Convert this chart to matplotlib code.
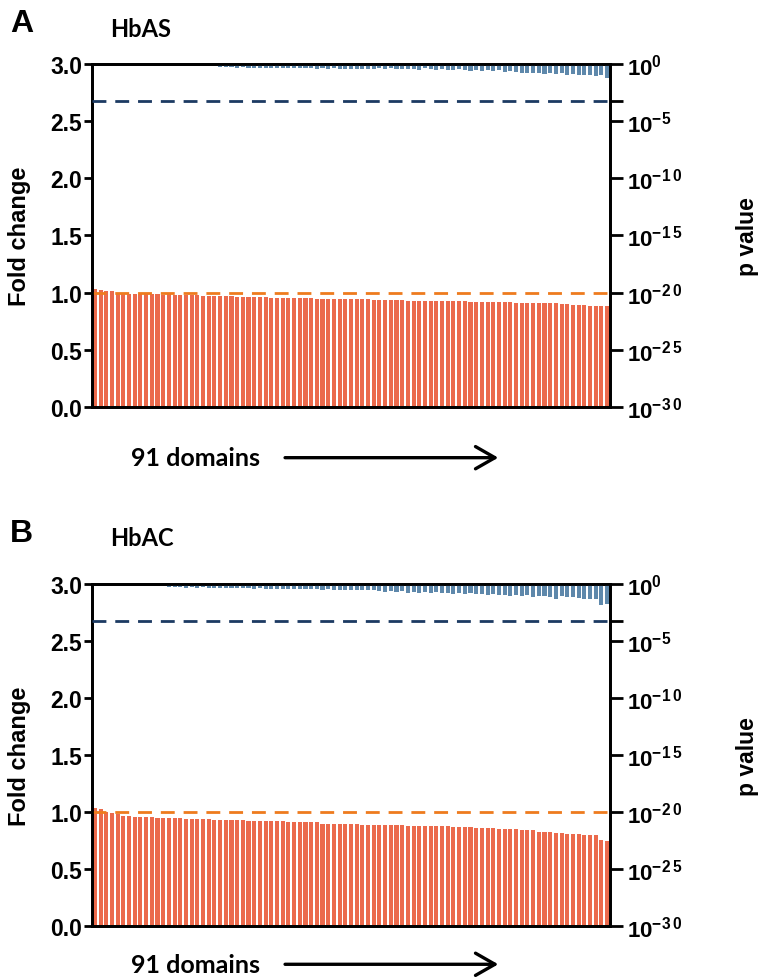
import matplotlib
matplotlib.use('Agg')
import matplotlib.pyplot as plt
import numpy as np
from matplotlib.patches import FancyArrowPatch
from matplotlib.ticker import FixedLocator, FixedFormatter

plt.rcParams['font.family'] = ['Liberation Sans', 'DejaVu Sans']
plt.rcParams['mathtext.fontset'] = 'custom'
plt.rcParams['mathtext.rm'] = 'Liberation Sans:bold'
plt.rcParams['mathtext.bf'] = 'Liberation Sans:bold'

# fold change per domain (sorted), panel A = HbAS, panel B = HbAC
fold_hbas = [1.03, 1.02, 1.01, 1.01, 1.00, 1.00, 0.99, 0.99, 0.99, 0.99,
             0.99, 0.99, 0.98, 0.99, 0.98, 0.98, 0.98, 0.98, 0.98, 0.97,
             0.97, 0.97, 0.97, 0.97, 0.97, 0.96, 0.96, 0.96, 0.96, 0.96,
             0.96, 0.955, 0.955, 0.95, 0.95, 0.95, 0.95, 0.95, 0.95, 0.945,
             0.945, 0.945, 0.94, 0.94, 0.94, 0.94, 0.94, 0.94, 0.94, 0.935,
             0.935, 0.935, 0.935, 0.935, 0.935, 0.93, 0.93, 0.93, 0.93, 0.93,
             0.93, 0.93, 0.93, 0.925, 0.925, 0.925, 0.92, 0.92, 0.92, 0.92,
             0.915, 0.915, 0.915, 0.915, 0.91, 0.91, 0.91, 0.91, 0.91, 0.905,
             0.905, 0.905, 0.90, 0.90, 0.895, 0.89, 0.89, 0.885, 0.885, 0.88, 0.88]

p_hbas = [0.99, 0.99, 1.0, 0.99, 0.99, 0.98, 0.99, 0.98, 0.98, 0.97,
          0.98, 0.97, 0.96, 0.95, 0.96, 0.94, 0.95, 0.93, 0.94, 0.92,
          0.93, 0.90, 0.55, 0.50, 0.52, 0.48, 0.50, 0.46, 0.49, 0.45,
          0.47, 0.44, 0.46, 0.43, 0.45, 0.42, 0.44, 0.41, 0.43, 0.40,
          0.42, 0.39, 0.41, 0.38, 0.40, 0.37, 0.39, 0.36, 0.38, 0.35,
          0.42, 0.38, 0.45, 0.36, 0.40, 0.34, 0.38, 0.32, 0.41, 0.35,
          0.30, 0.36, 0.33, 0.28, 0.34, 0.31, 0.27, 0.33, 0.25, 0.30,
          0.24, 0.28, 0.22, 0.26, 0.21, 0.16, 0.18, 0.15, 0.17, 0.14,
          0.16, 0.13, 0.15, 0.12, 0.13, 0.11, 0.12, 0.10, 0.095, 0.11, 0.055]

fold_hbac = [1.04, 1.03, 1.00, 0.99, 0.98, 0.97, 0.97, 0.96, 0.96, 0.96,
             0.96, 0.95, 0.95, 0.95, 0.95, 0.95, 0.94, 0.94, 0.94, 0.94,
             0.94, 0.93, 0.93, 0.93, 0.93, 0.93, 0.93, 0.92, 0.92, 0.92,
             0.92, 0.92, 0.92, 0.92, 0.91, 0.91, 0.91, 0.91, 0.91, 0.91,
             0.90, 0.90, 0.90, 0.90, 0.90, 0.90, 0.90, 0.89, 0.89, 0.89,
             0.89, 0.89, 0.89, 0.885, 0.885, 0.88, 0.88, 0.88, 0.88, 0.88,
             0.88, 0.88, 0.875, 0.87, 0.87, 0.87, 0.87, 0.86, 0.86, 0.86,
             0.86, 0.85, 0.85, 0.85, 0.85, 0.84, 0.84, 0.84, 0.83, 0.83,
             0.83, 0.82, 0.82, 0.81, 0.81, 0.81, 0.80, 0.80, 0.80, 0.76, 0.75]

p_hbac = [0.99, 0.98, 0.99, 0.99, 1.0, 0.98, 0.99, 0.97, 0.98, 0.97,
          0.98, 0.96, 0.95, 0.58, 0.55, 0.57, 0.52, 0.54, 0.50, 0.53,
          0.48, 0.51, 0.47, 0.49, 0.45, 0.48, 0.44, 0.46, 0.42, 0.45,
          0.41, 0.43, 0.40, 0.42, 0.38, 0.41, 0.37, 0.39, 0.36, 0.38,
          0.34, 0.37, 0.33, 0.35, 0.32, 0.34, 0.31, 0.33, 0.30, 0.32,
          0.26, 0.22, 0.25, 0.20, 0.24, 0.19, 0.23, 0.18, 0.21, 0.17,
          0.20, 0.16, 0.19, 0.15, 0.18, 0.14, 0.16, 0.13, 0.15, 0.12,
          0.14, 0.12, 0.11, 0.10, 0.12, 0.09, 0.11, 0.08, 0.10, 0.09,
          0.08, 0.056, 0.09, 0.07, 0.08, 0.065, 0.05, 0.055, 0.05, 0.015, 0.02]

n_domains = 91
p_threshold = 0.05 / n_domains

fold_ticks = [0.0, 0.5, 1.0, 1.5, 2.0, 2.5, 3.0]
p_ticks = [1e-30, 1e-25, 1e-20, 1e-15, 1e-10, 1e-5, 1e0]
p_ticklabels = [r'$10^{-3\,0}$', r'$10^{-2\,5}$', r'$10^{-2\,0}$', r'$10^{-1\,5}$',
                r'$10^{-1\,0}$', r'$10^{-5}$', r'$10^{0}$']

coral = '#EB6A4C'
steel = '#5E88AB'
navy = '#1C3A62'
orange = '#EE7B1E'

fig = plt.figure(figsize=(7.65, 9.78), dpi=100)


def panel(rect, fold, pvals, letter, title, ytop):
    ax = fig.add_axes(rect)
    x = np.arange(len(fold))
    ax.bar(x, fold, width=0.72, color=coral, linewidth=0)
    ax.axhline(1.0, color=orange, lw=2.0, dashes=(5, 3.2), zorder=3)
    ax.set_xlim(-0.5, len(fold) - 0.5)
    ax.set_ylim(0, 3.0)
    ax.set_yticks(fold_ticks)
    ax.set_yticklabels(['%.1f' % t for t in fold_ticks], fontsize=16.5, fontweight='bold')
    ax.set_xticks([])
    ax.set_ylabel('Fold change', fontsize=17, fontweight='bold')
    ax.yaxis.set_label_coords(-0.118, 0.5)
    for s in ax.spines.values():
        s.set_linewidth(2.0)
    ax.tick_params(axis='y', width=2.0, length=6, direction='out', pad=1)

    ax2 = ax.twinx()
    ax2.set_yscale('log')
    ax2.set_ylim(1e-30, 1)
    ax2.bar(x, [p - 1 for p in pvals], bottom=1, width=0.72, color=steel, linewidth=0)
    ax2.axhline(p_threshold, color=navy, lw=2.0, dashes=(5, 3.2), zorder=3)
    ax2.yaxis.set_major_locator(FixedLocator(p_ticks))
    ax2.yaxis.set_major_formatter(FixedFormatter(p_ticklabels))
    ax2.yaxis.set_minor_locator(FixedLocator([p_threshold]))
    ax2.tick_params(axis='y', which='major', width=2.0, length=9, labelsize=16, pad=3)
    ax2.tick_params(axis='y', which='minor', width=2.0, length=9)
    for s in ax2.spines.values():
        s.set_linewidth(2.0)
    ax2.set_ylabel('p value', fontsize=16.5, fontweight='bold')
    ax2.yaxis.set_label_coords(1.244, 0.5)

    fig.text(0.013, ytop, letter, fontsize=23, fontweight='bold', va='center')
    fig.text(0.144, ytop - 0.005, title, fontsize=17, fontweight='bold', va='center',
             family='Lato')
    return ax


ax_a = panel([0.1203, 0.583, 0.677, 0.3505], fold_hbas, p_hbas, 'A', 'HbAS', 0.975)
ax_b = panel([0.1203, 0.052, 0.677, 0.3495], fold_hbac, p_hbac, 'B', 'HbAC', 0.454)

for yy in [0.531, 0.013]:
    fig.text(0.256, yy, '91 domains', fontsize=18, fontweight='bold', ha='center',
             va='center', family='Lato')
    fig.add_artist(FancyArrowPatch(
        (0.369, yy), (0.655, yy), transform=fig.transFigure,
        arrowstyle='->,head_length=0.7,head_width=0.4', mutation_scale=20,
        lw=2.4, color='black'))

fig.savefig('out.png', dpi=100)
